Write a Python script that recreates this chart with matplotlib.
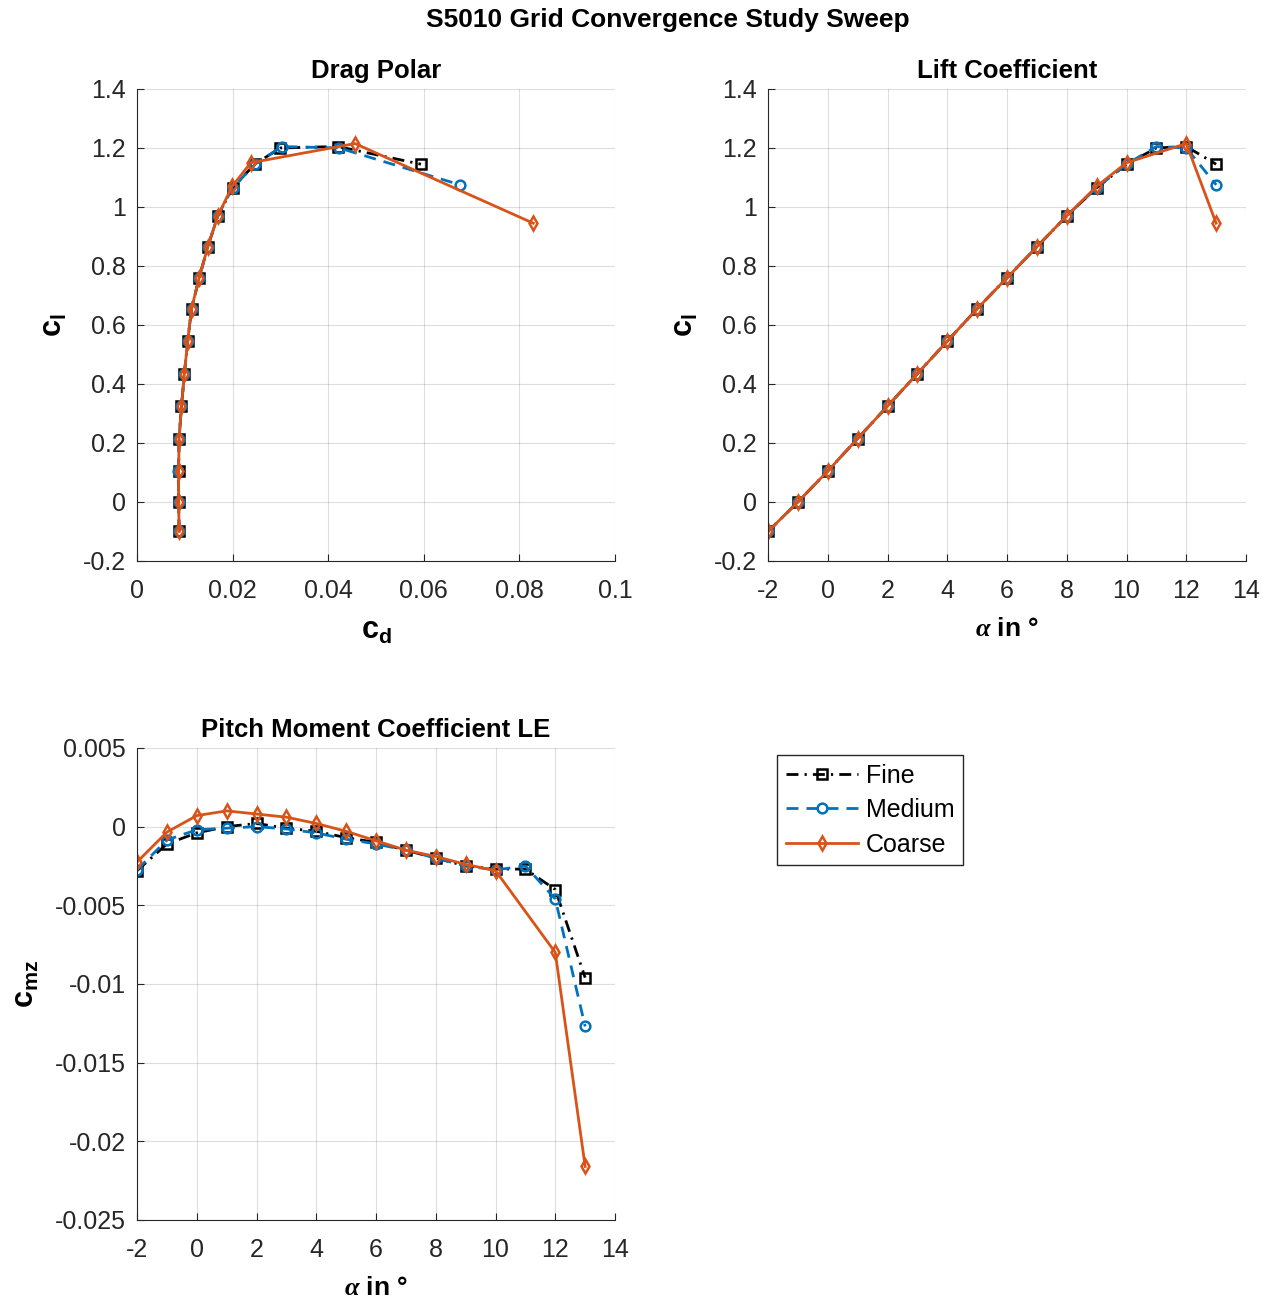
import matplotlib
matplotlib.use("Agg")
import matplotlib.pyplot as plt
from matplotlib.ticker import FuncFormatter

plt.rcParams['font.family'] = ['Liberation Sans', 'DejaVu Sans']
plt.rcParams['axes.unicode_minus'] = False
plt.rcParams['mathtext.fontset'] = 'custom'
plt.rcParams['mathtext.rm'] = 'Liberation Sans'
plt.rcParams['mathtext.it'] = 'Liberation Sans:italic'
plt.rcParams['mathtext.bf'] = 'Liberation Sans:bold'
plt.rcParams['mathtext.bfit'] = 'Liberation Serif:bold:italic'

# angle of attack
alpha_fine = [-2, -1, 0, 1, 2, 3, 4, 5, 6, 7, 8, 9, 10, 11, 12, 13]
alpha_medium = [-2, -1, 0, 1, 2, 3, 4, 5, 6, 7, 8, 9, 10, 11, 12, 13]
alpha_coarse = [-2, -1, 0, 1, 2, 3, 4, 5, 6, 7, 8, 9, 10, 12, 13]

# lift coefficient
cl_fine = [-0.10, 0.0, 0.105, 0.215, 0.325, 0.435, 0.545, 0.655, 0.76, 0.865, 0.97, 1.065, 1.145, 1.20, 1.205, 1.145]
cl_medium = [-0.10, 0.0, 0.105, 0.215, 0.325, 0.435, 0.545, 0.655, 0.76, 0.865, 0.97, 1.065, 1.145, 1.205, 1.20, 1.075]
cl_coarse = [-0.10, 0.0, 0.105, 0.215, 0.325, 0.435, 0.545, 0.655, 0.76, 0.865, 0.97, 1.07, 1.15, 1.215, 0.945]

# drag coefficient
cd_fine = [0.0088, 0.0087, 0.0087, 0.0088, 0.0093, 0.0099, 0.0106, 0.0114, 0.0130, 0.0148, 0.0169, 0.0200, 0.0246, 0.0300, 0.0420, 0.0594]
cd_medium = [0.0088, 0.0087, 0.0086, 0.0088, 0.0093, 0.0099, 0.0106, 0.0114, 0.0130, 0.0148, 0.0169, 0.0200, 0.0247, 0.0303, 0.0423, 0.0676]
cd_coarse = [0.0088, 0.0087, 0.0087, 0.0088, 0.0093, 0.0099, 0.0106, 0.0114, 0.0130, 0.0148, 0.0169, 0.0199, 0.0238, 0.0456, 0.0829]

# pitch moment coefficient (leading edge)
cm_fine = [-0.0028, -0.0011, -0.0004, 0.0000, 0.0002, -0.0001, -0.0003, -0.0007, -0.0010, -0.0015, -0.0020, -0.0025, -0.0027, -0.0027, -0.0040, -0.0096]
cm_medium = [-0.00275, -0.00085, -0.0002, -0.0001, 0.0000, -0.00015, -0.0004, -0.0008, -0.0011, -0.0015, -0.0020, -0.0025, -0.00275, -0.0025, -0.0046, -0.0127]
cm_coarse = [-0.00225, -0.00035, 0.0007, 0.0010, 0.0008, 0.0006, 0.0002, -0.0003, -0.0009, -0.0015, -0.0019, -0.0024, -0.0028, -0.0080, -0.0216]

blue = (0, 0.447, 0.741)
orange = (0.85, 0.325, 0.098)
styles = [
    dict(color='black', linestyle=(0, (4.3, 2.2, 0.8, 2.2)), marker='s', label='Fine'),
    dict(color=blue, linestyle=(0, (4.3, 2.9)), marker='o', label='Medium'),
    dict(color=orange, linestyle='-', marker='d', label='Coarse'),
]
common = dict(linewidth=2, markersize=7, markerfacecolor='none', markeredgewidth=1.8)

fmt = FuncFormatter(lambda v, p: '%g' % round(v, 6))
grey = (0.15, 0.15, 0.15)

fig = plt.figure(figsize=(12.76, 13.01), dpi=100)
ax1 = fig.add_axes([0.1074, 0.5688, 0.3746, 0.3628])
ax2 = fig.add_axes([0.6019, 0.5688, 0.3746, 0.3628])
ax3 = fig.add_axes([0.1074, 0.0623, 0.3746, 0.3628])

lines = []
for x, y, st in zip([cd_fine, cd_medium, cd_coarse], [cl_fine, cl_medium, cl_coarse], styles):
    lines += ax1.plot(x, y, **st, **common)
for x, y, st in zip([alpha_fine, alpha_medium, alpha_coarse], [cl_fine, cl_medium, cl_coarse], styles):
    ax2.plot(x, y, **st, **common)
for x, y, st in zip([alpha_fine, alpha_medium, alpha_coarse], [cm_fine, cm_medium, cm_coarse], styles):
    ax3.plot(x, y, **st, **common)

alpha_label = r'$\boldsymbol{\alpha}$ in °'

ax1.set_xlim(0, 0.1)
ax1.set_xticks([0, 0.02, 0.04, 0.06, 0.08, 0.1])
ax1.set_ylim(-0.2, 1.4)
ax1.set_yticks([-0.2, 0, 0.2, 0.4, 0.6, 0.8, 1.0, 1.2, 1.4])
ax1.set_title('Drag Polar', fontsize=18.5, fontweight='bold', pad=8)
ax1.set_xlabel(r'$\mathbf{c_d}$', fontsize=22, labelpad=9)
ax1.set_ylabel(r'$\mathbf{c_l}$', fontsize=22, labelpad=10)

ax2.set_xlim(-2, 14)
ax2.set_xticks(range(-2, 15, 2))
ax2.set_ylim(-0.2, 1.4)
ax2.set_yticks([-0.2, 0, 0.2, 0.4, 0.6, 0.8, 1.0, 1.2, 1.4])
ax2.set_title('Lift Coefficient', fontsize=18.5, fontweight='bold', pad=8)
ax2.set_xlabel(alpha_label, fontsize=19, fontweight='bold', labelpad=10)
ax2.set_ylabel(r'$\mathbf{c_l}$', fontsize=22, labelpad=10)

ax3.set_xlim(-2, 14)
ax3.set_xticks(range(-2, 15, 2))
ax3.set_ylim(-0.025, 0.005)
ax3.set_yticks([-0.025, -0.02, -0.015, -0.01, -0.005, 0, 0.005])
ax3.set_title('Pitch Moment Coefficient LE', fontsize=18.5, fontweight='bold', pad=8)
ax3.set_xlabel(alpha_label, fontsize=19, fontweight='bold', labelpad=10)
ax3.set_ylabel(r'$\mathbf{c_{mz}}$', fontsize=22, labelpad=10)

for ax in (ax1, ax2, ax3):
    ax.xaxis.set_major_formatter(fmt)
    ax.yaxis.set_major_formatter(fmt)
    ax.grid(True, color=grey, alpha=0.15, linewidth=0.8)
    ax.spines['top'].set_visible(False)
    ax.spines['right'].set_visible(False)
    for s in ('left', 'bottom'):
        ax.spines[s].set_color(grey)
    ax.tick_params(direction='in', length=5, labelsize=18, colors=grey)
    ax.tick_params(axis='x', pad=13)
    ax.tick_params(axis='y', pad=8)
    ax.set_axisbelow(True)

fig.text(0.5235, 0.9846, 'S5010 Grid Convergence Study Sweep', fontsize=19, fontweight='bold',
         ha='center', va='center')

fig.legend(handles=lines, loc='upper left', bbox_to_anchor=(0.6089, 0.4197), fontsize=18,
           frameon=True, fancybox=False, edgecolor=grey, framealpha=1, borderaxespad=0,
           handlelength=2.9, borderpad=0.35, labelspacing=0.42, handletextpad=0.3)

fig.savefig('out.png', dpi=100)
